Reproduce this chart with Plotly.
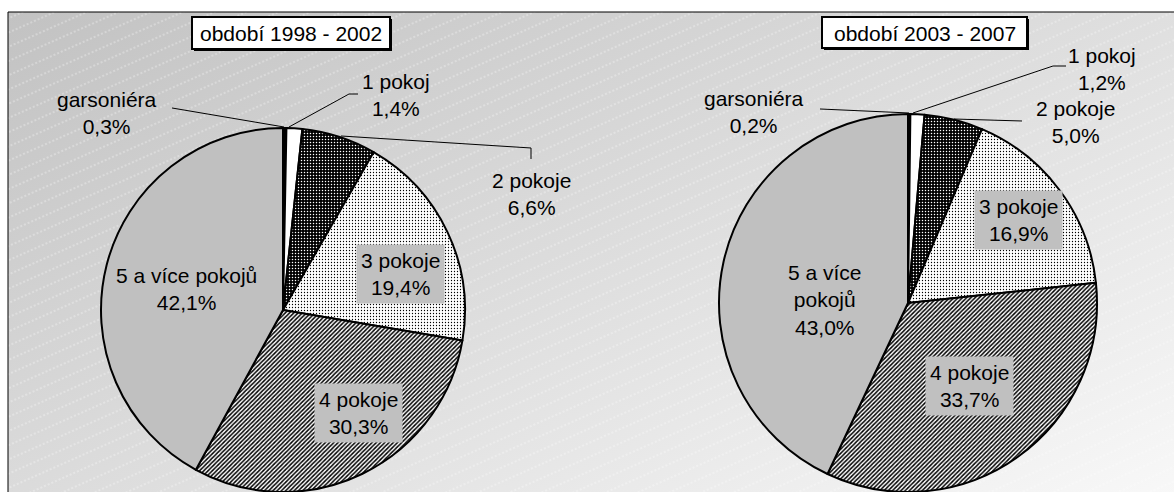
import base64
import plotly.graph_objects as go

# ---------------- data ----------------
categories = ["garsoniéra", "1 pokoj", "2 pokoje", "3 pokoje", "4 pokoje", "5 a více pokojů"]
label_names_left = ["garsoniéra", "1 pokoj", "2 pokoje", "3 pokoje", "4 pokoje", "5 a více pokojů"]
label_names_right = ["garsoniéra", "1 pokoj", "2 pokoje", "3 pokoje", "4 pokoje", "5 a více<br>pokojů"]
values_1998_2002 = [0.3, 1.4, 6.6, 19.4, 30.3, 42.1]
values_2003_2007 = [0.2, 1.2, 5.0, 16.9, 33.7, 43.0]
period_titles = ["období 1998 - 2002", "období 2003 - 2007"]

# ---------------- layout helpers ----------------
W, H = 1174, 492
FONT = "Liberation Sans, Arial, sans-serif"
FS = 21


def px(x):
    return x / W


def py(y):
    return 1 - y / H


def fmt(v):
    return f"{v:.1f}%".replace(".", ",")


# slice styles
base_colors = ["#000000", "#ffffff", "#000000", "#ffffff", "#ffffff", "#c0c0c0"]
pattern = dict(
    shape=["", "", ".", ".", "/", ""],
    fgcolor=["#000000", "#000000", "#ffffff", "#000000", "#000000", "#000000"],
    bgcolor=["#000000", "#ffffff", "#000000", "#ffffff", "#ffffff", "#c0c0c0"],
    size=[6, 6, 3, 3, 3, 6],
    solidity=[0.3, 0.3, 0.2, 0.15, 0.5, 0.3],
    fillmode="replace",
)

fig = go.Figure()


def pie_domain(cx, cy, r):
    return dict(x=[px(cx - r), px(cx + r)], y=[max(0, py(cy + r)), py(cy - r)])


for vals, dom in [
    (values_1998_2002, pie_domain(283, 310, 182)),
    (values_2003_2007, pie_domain(908, 303, 189)),
]:
    fig.add_trace(go.Pie(
        labels=categories, values=vals, sort=False, direction="clockwise", rotation=0,
        textinfo="none", hoverinfo="skip", showlegend=False, domain=dom,
        marker=dict(colors=base_colors, line=dict(color="black", width=2), pattern=pattern),
    ))

annotations = []
shapes = []

# background gradient (inside chart frame)
fx0, fy0 = 8, 12
bw, bh = W - fx0, H - fy0
svg = f'''<svg xmlns="http://www.w3.org/2000/svg" width="{bw}" height="{bh}" viewBox="0 0 {bw} {bh}" preserveAspectRatio="none">
<defs>
<linearGradient id="g" gradientUnits="userSpaceOnUse" x1="0" y1="0" x2="460" y2="958">
<stop offset="0" stop-color="#c2c2c2"/><stop offset="1" stop-color="#ffffff"/>
</linearGradient>
<pattern id="p" width="40" height="13" patternUnits="userSpaceOnUse" patternTransform="rotate(-24)">
<line x1="0" y1="6" x2="40" y2="6" stroke="#ffffff" stroke-opacity="0.55" stroke-width="1" stroke-dasharray="2,2"/>
</pattern>
</defs>
<rect x="0" y="0" width="{bw}" height="{bh}" fill="url(#g)"/>
<rect x="0" y="0" width="{bw}" height="{bh}" fill="url(#p)"/>
</svg>'''
src = "data:image/svg+xml;base64," + base64.b64encode(svg.encode("utf-8")).decode("ascii")
images = [dict(source=src, xref="paper", yref="paper", x=px(fx0), y=py(fy0),
               sizex=px(bw), sizey=bh / H, xanchor="left", yanchor="top",
               sizing="stretch", layer="below")]

# chart frame
shapes.append(dict(type="rect", xref="paper", yref="paper", x0=px(fx0), y0=py(fy0),
                   x1=px(W + 5), y1=py(H + 5), line=dict(color="#000000", width=1),
                   fillcolor="rgba(0,0,0,0)", layer="above"))

# title boxes
for title, (x0, y0, x1, y1) in zip(period_titles, [(192, 17, 390, 49), (822, 17, 1027, 48)]):
    shapes.append(dict(type="rect", xref="paper", yref="paper", x0=px(x0 + 2), y0=py(y0 + 2),
                       x1=px(x1 + 2), y1=py(y1 + 2), fillcolor="black", line=dict(width=0)))
    shapes.append(dict(type="rect", xref="paper", yref="paper", x0=px(x0), y0=py(y0),
                       x1=px(x1), y1=py(y1), fillcolor="white", line=dict(color="black", width=2)))
    annotations.append(dict(text=title, xref="paper", yref="paper", x=px((x0 + x1) / 2),
                            y=py((y0 + y1) / 2 + 1), xanchor="center", yanchor="middle",
                            showarrow=False, font=dict(family=FONT, size=FS, color="black")))

# label positions (pixel centres) and whether they carry a grey box
label_pos_left = [(107, 113), (396, 95), (531, 194), (400, 274), (358, 413), (186, 289)]
label_pos_right = [(754, 112), (1102, 69), (1075, 122), (1018, 220), (969, 386), (825, 300)]
boxed = [False, False, False, True, True, True]

for names, vals, poss in [
    (label_names_left, values_1998_2002, label_pos_left),
    (label_names_right, values_2003_2007, label_pos_right),
]:
    for name, v, (x, y), b in zip(names, vals, poss, boxed):
        ann = dict(text=f"{name}<br>{fmt(v)}", xref="paper", yref="paper", x=px(x), y=py(y),
                   xanchor="center", yanchor="middle", showarrow=False, align="center",
                   font=dict(family=FONT, size=FS, color="black"))
        if b:
            ann.update(bgcolor="#c0c0c0", borderpad=4)
        annotations.append(ann)

# leader lines (pixel paths)
leaders = [
    [(172, 108), (284, 127)],
    [(289, 127), (349, 94), (358, 94)],
    [(341, 136), (531, 148), (531, 159)],
    [(820, 109), (909, 113)],
    [(913, 113), (1053, 66), (1066, 66)],
    [(954, 119), (1022, 121)],
]
for pts in leaders:
    path = "M " + " L ".join(f"{px(a):.5f},{py(b):.5f}" for a, b in pts)
    shapes.append(dict(type="path", xref="paper", yref="paper", path=path,
                       line=dict(color="black", width=1)))

fig.update_layout(
    width=W, height=H, margin=dict(l=0, r=0, t=0, b=0),
    paper_bgcolor="white", plot_bgcolor="white",
    annotations=annotations, shapes=shapes, images=images,
    font=dict(family=FONT),
)

fig.write_html(
    "out.html",
    config={"displayModeBar": False},
    post_script="document.body.style.margin='0px';document.body.style.overflow='hidden';",
)
